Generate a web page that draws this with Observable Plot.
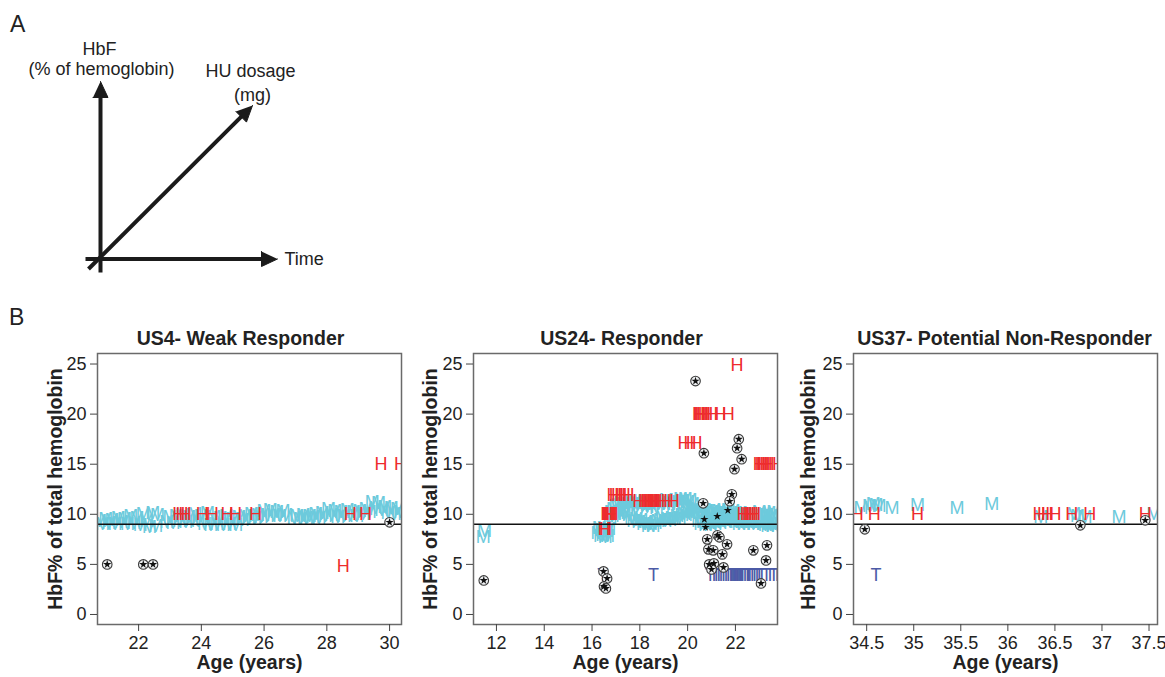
<!DOCTYPE html>
<html>
<head>
<meta charset="utf-8">
<script src="https://cdn.jsdelivr.net/npm/d3@7"></script>
<script src="https://cdn.jsdelivr.net/npm/@observablehq/plot@0.6"></script>
<style>
  html, body { margin: 0; padding: 0; background: #fff; }
  #fig { position: relative; width: 1165px; height: 677px; overflow: hidden;
         font-family: "Liberation Sans", Arial, Helvetica, sans-serif; color: #222; }
  #fig > .piece { position: absolute; }
  .tag { position: absolute; font-size: 23px; line-height: 1; color: #222; }
</style>
</head>
<body>
<div id="fig">
  <div class="tag" style="left:10px;top:13px;">A</div>
  <div class="tag" style="left:9px;top:306px;">B</div>
</div>
<script>
// ---------- Panel A: schematic of the three dimensions ----------
const sketchArrows = [
  {name: "HbF", from: [100, 272], to: [100, 81]},
  {name: "Time", from: [85, 258.5], to: [277, 258.5]},
  {name: "HU dosage", from: [88, 268.5], to: [252, 105]}
];
const sketchLabelsCentered = [
  {text: "HbF", x: 99, y: 49},
  {text: "(% of hemoglobin)", x: 101, y: 69},
  {text: "HU dosage", x: 250, y: 71},
  {text: "(mg)", x: 252, y: 95}
];
const sketchLabelsLeft = [{text: "Time", x: 284, y: 259}];

// ---------- Panel B: longitudinal records per patient ----------
// Each point is [age in years, HbF %]
const yTicks = [0, 5, 10, 15, 20, 25];
const baselineHbF = 9;

// US4 - weak responder
const us4Ticks = [22, 24, 26, 28, 30];
const us4M = [
  [20.75,9.3],[20.85,9.0],[20.95,9.5],[21.05,9.1],[21.15,9.4],[21.25,9.0],[21.35,9.6],[21.45,9.2],
  [21.55,9.5],[21.65,9.0],[21.75,9.8],[21.85,9.1],[21.95,9.6],[22.05,8.9],[22.15,10.0],[22.25,9.3],
  [22.35,8.7],[22.45,10.1],[22.55,8.8],[22.6,9.9],
  [22.9,9.2],[23.0,9.7],[23.1,9.1],[23.2,9.8],[23.3,9.3],[23.4,9.9],[23.5,9.2],[23.6,9.7],
  [23.7,9.4],[23.8,10.0],[23.9,9.3],[24.0,9.8],[24.1,9.0],[24.2,10.1],[24.3,8.9],[24.4,9.7],
  [24.5,9.0],[24.6,9.6],[24.7,8.9],[24.8,9.8],[24.9,9.0],[25.0,9.5],[25.1,8.9],[25.2,9.7],
  [25.3,9.4],[25.4,9.8],[25.5,9.5],[25.6,10.0],[25.7,9.6],[25.8,9.9],[25.9,9.7],[26.0,10.3],
  [26.1,9.8],[26.2,10.4],[26.3,9.9],[26.4,10.2],[26.5,9.8],[26.6,10.3],[26.7,9.9],
  [26.95,9.6],[27.05,9.8],[27.15,9.5],[27.25,9.9],[27.35,9.6],[27.45,9.8],[27.55,9.7],[27.65,10.0],
  [27.75,9.6],[27.85,10.1],[27.95,9.8],[28.05,10.5],[28.15,9.9],[28.25,10.3],[28.35,9.7],[28.45,10.2],
  [28.55,9.8],[28.65,10.4],[28.75,9.9],[28.85,10.2],[28.95,9.8],[29.05,10.3],[29.15,10.0],[29.25,10.5],
  [29.35,10.2],[29.45,11.2],[29.55,10.6],[29.65,11.1],[29.75,10.4],[29.85,10.7],[29.95,10.1],[30.05,10.6],
  [30.15,10.0],[30.25,10.5],[30.35,10.2]
];
const us4H = [
  [23.28,10],[23.38,10],[23.48,10],[24.03,10],[24.35,10],[24.82,10],[25.09,10],[25.73,10],
  [28.75,10],[29.23,10],[29.73,15],[30.35,15],[28.52,4.8]
];
const us4T = [];
const us4Hbf = [[21.0,5.0],[22.15,5.0],[22.46,5.0],[30.0,9.2]];
const us4Star = [];

// US24 - responder
const us24Ticks = [12, 14, 16, 18, 20, 22];
const us24M = [
  [11.45,7.7],[11.5,8.3],
  [16.25,8.1],[16.3,8.6],[16.35,7.8],[16.4,8.4],[16.45,7.9],[16.5,8.6],[16.55,7.7],[16.6,8.3],[16.65,7.8],[16.7,8.5],
  [16.75,9.6],[16.8,10.2],[16.85,9.8],[16.9,10.5],[16.95,10.0],[17.0,10.8],[17.05,10.1],[17.1,10.9],
  [17.15,10.2],[17.2,11.1],[17.25,10.3],[17.3,11.0],[17.35,10.0],[17.4,11.2],[17.45,10.4],[17.5,11.0],
  [17.55,9.9],[17.6,11.3],[17.65,9.6],[17.7,11.0],[17.75,9.3],[17.8,11.2],[17.85,9.5],[17.9,10.9],
  [17.95,9.2],[18.0,11.1],[18.05,9.4],[18.1,10.8],[18.15,9.0],[18.2,11.3],[18.25,9.2],[18.3,10.7],
  [18.35,8.8],[18.4,11.0],[18.45,9.0],[18.5,10.9],[18.55,8.8],[18.6,11.2],[18.65,9.1],[18.7,10.6],
  [18.75,9.3],[18.8,11.1],[18.85,9.4],[18.9,11.3],[18.95,9.6],[19.0,11.0],[19.05,9.3],[19.1,11.4],
  [19.15,9.5],[19.2,11.0],[19.25,9.4],[19.3,11.3],[19.35,9.6],[19.4,10.9],[19.45,9.5],[19.5,11.4],
  [19.55,9.8],[19.6,11.2],[19.65,9.6],[19.7,11.5],[19.75,9.9],[19.8,11.3],[19.85,10.0],[19.9,11.5],
  [19.95,10.2],[20.0,11.2],[20.05,10.1],[20.1,11.4],[20.15,10.3],[20.2,11.0],[20.25,10.2],[20.3,10.7],
  [20.35,9.9],[20.4,10.5],
  [20.45,9.3],[20.5,10.2],[20.55,9.0],[20.6,10.4],[20.65,9.2],[20.7,10.1],[20.75,8.9],[20.8,10.3],
  [20.85,9.1],[20.9,10.0],[20.95,8.9],[21.0,10.2],[21.05,9.2],[21.1,10.4],[21.15,9.0],[21.2,10.1],
  [21.25,9.3],[21.3,10.3],[21.35,9.1],[21.4,10.0],[21.45,9.4],[21.5,10.3],[21.55,9.2],[21.6,10.1],
  [21.65,9.5],[21.7,10.4],[21.75,9.3],[21.8,10.0],[21.85,9.6],[21.9,10.3],[21.95,9.4],[22.0,10.1],
  [22.05,9.2],[22.1,9.9],[22.15,9.0],[22.2,10.1],[22.25,9.2],[22.3,9.8],[22.35,9.0],[22.4,10.0],
  [22.45,9.3],[22.5,9.9],[22.55,9.1],[22.6,10.1],[22.65,9.2],[22.7,9.8],[22.75,9.0],[22.8,10.0],
  [22.85,9.3],[22.9,9.9],[22.95,9.1],[23.0,10.2],[23.05,9.2],[23.1,9.8],[23.15,9.0],[23.2,10.0],
  [23.25,8.9],[23.3,9.9],[23.35,8.8],[23.4,10.1],[23.45,9.0],[23.5,9.8],[23.55,8.8],[23.6,10.2],
  [23.65,9.1],[23.7,9.9],[23.75,8.9]
];
const us24H = [
  [16.5,8.5],[16.56,8.5],
  [16.62,10],[16.66,10],[16.7,10],[16.74,10],[16.78,10],[16.84,10],
  [16.88,11.9],[16.97,11.9],[17.07,11.9],[17.2,11.9],[17.35,11.9],[17.5,11.9],
  [17.95,11.3],[18.2,11.3],[18.28,11.3],[18.36,11.3],[18.42,11.3],[18.48,11.3],[18.54,11.3],[18.6,11.3],
  [18.68,11.3],[18.9,11.3],[19.15,11.3],[19.4,11.3],
  [19.85,17.1],[20.1,17.1],[20.35,17.1],
  [20.45,20],[20.5,20],[20.56,20],[20.62,20],[20.7,20],[20.8,20],[21.05,20],[21.35,20],[21.7,20],
  [22.07,24.9],
  [22.32,10],[22.45,10],[22.55,10],[22.62,10],[22.7,10],[22.8,10],
  [23.0,15],[23.08,15],[23.14,15],[23.2,15],[23.28,15],[23.36,15],[23.8,15]
];
const us24T = [
  [16.45,3.9],[18.57,3.9],
  [20.95,3.9],[21.1,3.9],[21.2,3.9],[21.3,3.9],[21.4,3.9],[21.5,3.9],[21.6,3.9],[21.7,3.9],
  [21.8,3.9],[21.85,3.9],[21.9,3.9],[21.95,3.9],[22.0,3.9],[22.05,3.9],[22.1,3.9],[22.15,3.9],
  [22.2,3.9],[22.25,3.9],[22.3,3.9],[22.4,3.9],[22.5,3.9],[22.55,3.9],[22.6,3.9],[22.7,3.9],
  [22.8,3.9],[22.9,3.9],[23.0,3.9],[23.1,3.9],[23.3,3.9],[23.45,3.9],[23.6,3.9],[23.75,3.9]
];
const us24Hbf = [
  [11.47,3.4],[16.48,4.3],[16.63,3.6],[16.5,2.8],[16.58,2.6],
  [20.33,23.3],[20.68,16.1],[22.14,17.5],[22.07,16.6],[22.26,15.5],[21.96,14.5],[21.85,12.0],[21.76,11.3],
  [20.65,11.1],[20.82,7.5],[20.87,6.5],[21.07,6.4],[21.25,7.9],[21.33,7.7],[21.45,6.0],[21.65,7.0],
  [20.9,5.0],[21.1,5.1],[21.0,4.5],[21.5,4.7],[22.75,6.4],[23.32,6.9],[23.28,5.4],[23.07,3.1]
];
const us24Star = [[20.7,9.5],[20.75,8.7],[21.24,9.8],[21.68,10.4]];

// US37 - potential non-responder
const us37Ticks = [34.5, 35, 35.5, 36, 36.5, 37, 37.5];
const us37M = [
  [34.44,10.6],[34.53,10.8],[34.57,11.0],[34.6,10.9],[34.63,10.8],[34.77,10.6],[35.04,10.9],
  [35.46,10.6],[35.83,11.05],[36.35,9.7],[36.7,10.0],[36.74,9.8],[36.82,9.7],[37.18,9.7],[37.55,10.0]
];
const us37H = [
  [34.4,10],[34.58,10],[35.04,10],[36.33,10],[36.38,10],[36.42,10],[36.5,10],[36.68,10],[36.87,10],[37.46,10]
];
const us37T = [[34.6,3.9]];
const us37Hbf = [[34.48,8.5],[36.77,8.9],[37.46,9.4]];
const us37Star = [];

// ---------- drawing ----------
const FONT = '"Liberation Sans", Arial, Helvetica, sans-serif';
const INK = "#1b1b1b";
const COL_M = "#6ccadc";
const COL_H = "#ee2b2d";
const COL_T = "#4b5aa6";
const fig = document.getElementById("fig");

function place(node, left, top) {
  node.classList.add("piece");
  node.style.left = left + "px";
  node.style.top = top + "px";
  fig.appendChild(node);
}

// Panel A
(function drawSketch() {
  const headLen = 16, headHalf = 7.5;
  const shafts = [], heads = [];
  for (const a of sketchArrows) {
    const [x0, y0] = a.from, [x1, y1] = a.to;
    const L = Math.hypot(x1 - x0, y1 - y0);
    const ux = (x1 - x0) / L, uy = (y1 - y0) / L;
    const bx = x1 - ux * headLen, by = y1 - uy * headLen;
    shafts.push({x1: x0, y1: y0, x2: bx + ux * 2, y2: by + uy * 2});
    heads.push({name: a.name, x: x1, y: y1});
    heads.push({name: a.name, x: bx - uy * headHalf, y: by + ux * headHalf});
    heads.push({name: a.name, x: bx + uy * headHalf, y: by - ux * headHalf});
  }
  const svg = Plot.plot({
    width: 340, height: 300, margin: 0,
    x: {domain: [0, 340], range: [0, 340], axis: null},
    y: {domain: [0, 300], range: [0, 300], axis: null},
    style: {fontFamily: FONT, fontSize: "18px", color: "#222", background: "transparent"},
    marks: [
      Plot.link(shafts, {x1: "x1", y1: "y1", x2: "x2", y2: "y2", stroke: INK, strokeWidth: 4, strokeLinecap: "butt"}),
      Plot.line(heads, {x: "x", y: "y", z: "name", fill: INK, stroke: INK, strokeWidth: 1}),
      Plot.text(sketchLabelsCentered, {x: "x", y: "y", text: "text", fontSize: 18, fill: "#222"}),
      Plot.text(sketchLabelsLeft, {x: "x", y: "y", text: "text", fontSize: 18, fill: "#222", textAnchor: "start"})
    ]
  });
  place(svg, 0, 0);
})();

// Panel B
function drawPatient({left, width, mL, mR, title, titleDx, labelDx, domain, ticks, M, H, T, hbf, star}) {
  const px = d => d[0], py = d => d[1];
  const svg = Plot.plot({
    width, height: 357,
    marginLeft: mL, marginRight: mR, marginTop: 33, marginBottom: 53,
    x: {domain},
    y: {domain: [-1, 26.05]},
    style: {fontFamily: FONT, fontSize: "18px", color: "#222", background: "transparent", overflow: "visible"},
    marks: [
      Plot.text(M, {x: px, y: py, text: () => "M", fill: COL_M, fontSize: 18, clip: true}),
      Plot.text(H, {x: px, y: py, text: () => "H", fill: COL_H, fontSize: 18, clip: true}),
      Plot.text(T, {x: px, y: py, text: () => "T", fill: COL_T, fontSize: 18, clip: true}),
      Plot.ruleY([baselineHbF], {stroke: "#111", strokeWidth: 1.6}),
      Plot.dot(hbf, {x: px, y: py, r: 4.8, fill: "#eef0f2", stroke: "#3a3a3a", strokeWidth: 1.1, clip: true}),
      Plot.dot(hbf, {x: px, y: py, symbol: "star", r: 2.6, fill: "#111", stroke: "none", clip: true}),
      Plot.dot(star, {x: px, y: py, symbol: "star", r: 2.6, fill: "#111", stroke: "none", clip: true}),
      Plot.frame({stroke: "#6a6a6a", strokeWidth: 1.5}),
      Plot.axisX({ticks, tickSize: 7, tickPadding: 5, fontSize: 18, label: null,
                  tickFormat: d => String(d), stroke: "#444", fill: "#222"}),
      Plot.axisY({ticks: yTicks, tickSize: 7, tickPadding: 4, fontSize: 18, label: null,
                  tickFormat: d => String(d), stroke: "#444", fill: "#222"}),
      Plot.text([title], {frameAnchor: "top", text: d => d, dy: -15, dx: titleDx, lineAnchor: "middle",
                          textAnchor: "middle", fontSize: 19.5, fontWeight: "bold", fill: "#222"}),
      Plot.text(["HbF% of total hemoglobin"], {frameAnchor: "left", text: d => d, rotate: -90, dx: labelDx,
                          textAnchor: "middle", lineAnchor: "middle",
                          fontSize: 19.5, fontWeight: "bold", fill: "#222"}),
      Plot.text(["Age (years)"], {frameAnchor: "bottom", text: d => d, dy: 38, lineAnchor: "middle",
                          textAnchor: "middle", fontSize: 19.5, fontWeight: "bold", fill: "#222"})
    ]
  });
  place(svg, left, 320);
}

drawPatient({left: 0, width: 410, mL: 97, mR: 9, title: "US4- Weak Responder", titleDx: -9, labelDx: -42,
  domain: [20.69, 30.38], ticks: us4Ticks, M: us4M, H: us4H, T: us4T, hbf: us4Hbf, star: us4Star});
drawPatient({left: 410, width: 380, mL: 63, mR: 13, title: "US24- Responder", titleDx: -4, labelDx: -43,
  domain: [11.04, 23.76], ticks: us24Ticks, M: us24M, H: us24H, T: us24T, hbf: us24Hbf, star: us24Star});
drawPatient({left: 790, width: 375, mL: 63, mR: 8, title: "US37- Potential Non-Responder", titleDx: -1, labelDx: -45,
  domain: [34.36, 37.59], ticks: us37Ticks, M: us37M, H: us37H, T: us37T, hbf: us37Hbf, star: us37Star});
</script>
</body>
</html>
